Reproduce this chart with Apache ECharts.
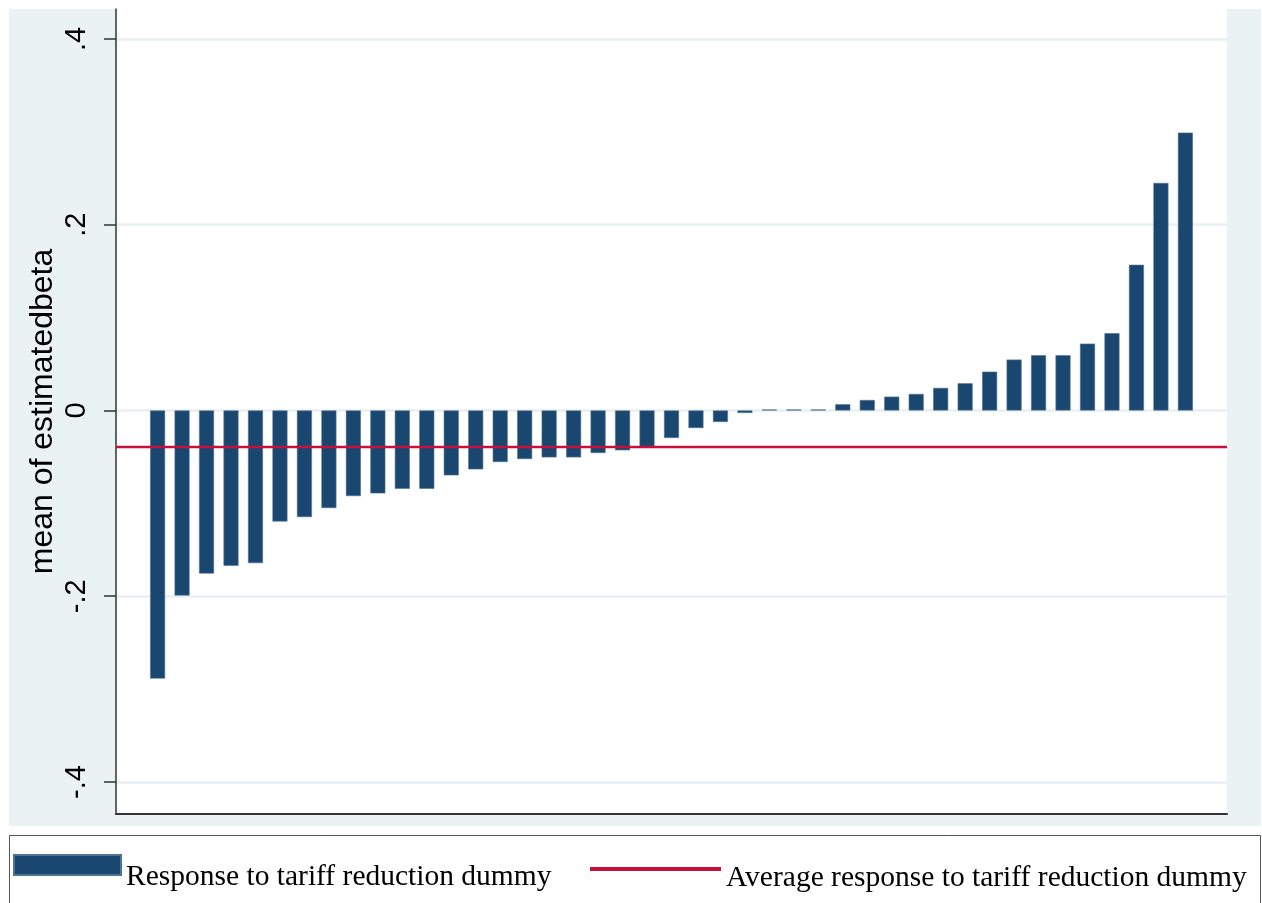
<!DOCTYPE html>
<html>
<head>
<meta charset="utf-8">
<script src="https://cdn.jsdelivr.net/npm/echarts@6/dist/echarts.min.js"></script>
<style>
  html, body { margin: 0; padding: 0; background: #ffffff; }
  #chart { width: 1262px; height: 903px; }
</style>
</head>
<body>
<div id="chart"></div>
<script>
// Estimated response (beta) for each unit, sorted from lowest to highest
const estimatedBeta = [
  -0.2887, -0.1993, -0.1756, -0.1673, -0.1644, -0.1195, -0.1148, -0.1051,
  -0.0922, -0.0893, -0.0843, -0.0843, -0.0699, -0.0634, -0.0555, -0.0523,
  -0.0505, -0.0505, -0.0458, -0.0429, -0.0397, -0.0296, -0.0189, -0.0124,
  -0.0027, 0.0010, 0.0010, 0.0010, 0.0067, 0.0113, 0.0149, 0.0178,
  0.0243, 0.0293, 0.0418, 0.0548, 0.0595, 0.0595, 0.0720, 0.0832,
  0.1569, 0.2450, 0.2992
];
// Average response shown as a horizontal reference line
const averageResponse = -0.0394;

const yTickValues = [-0.4, -0.2, 0, 0.2, 0.4];
const yTickLabels = ['-.4', '-.2', '0', '.2', '.4'];
const seriesNames = [
  'Response to tariff reduction dummy',
  'Average response to tariff reduction dummy'
];

// Bar positions along the horizontal value axis (1..n)
const barPositions = estimatedBeta.map((_, i) => i + 1);

const X_MIN = -0.7;
const X_MAX = estimatedBeta.length + 1.7;
const Y_MIN = -0.4345;
const Y_MAX = 0.4323;

const NAVY = '#1A476F';
const RED = '#C8103C';
const AXIS = '#333333';
const LEGEND_FONT = { fontFamily: 'Liberation Serif', fontSize: 29.5, color: '#000' };

const chart = echarts.init(document.getElementById('chart'), null, { renderer: 'canvas' });

chart.setOption({
  animation: false,
  backgroundColor: '#ffffff',
  graphic: [
    {
      type: 'rect', z: -10, silent: true,
      shape: { x: 9, y: 9, width: 1252, height: 817 },
      style: { fill: '#EAF2F3' }
    },
    {
      type: 'rect', z: -5, silent: true,
      shape: { x: 9.5, y: 835.5, width: 1251, height: 90 },
      style: { fill: '#ffffff', stroke: '#555555', lineWidth: 1 }
    }
  ],
  grid: {
    left: 116, right: 35, top: 9, bottom: 89,
    show: true, backgroundColor: '#ffffff', borderWidth: 0
  },
  xAxis: {
    type: 'value',
    min: X_MIN, max: X_MAX,
    axisLine: { show: true, onZero: false, lineStyle: { color: AXIS, width: 2 } },
    axisTick: { show: false },
    axisLabel: { show: false },
    splitLine: { show: false }
  },
  yAxis: {
    type: 'value',
    min: Y_MIN, max: Y_MAX,
    name: 'mean of estimatedbeta',
    nameLocation: 'middle',
    nameGap: 57,
    nameMoveOverlap: false,
    nameTextStyle: { fontFamily: 'Liberation Sans', fontSize: 32, color: '#000' },
    axisLine: { show: true, onZero: false, lineStyle: { color: AXIS, width: 1.5 } },
    axisTick: {
      show: true, length: 12, customValues: yTickValues,
      lineStyle: { color: AXIS, width: 1.5 }
    },
    axisLabel: {
      show: true, rotate: 90, margin: 25,
      customValues: yTickValues,
      fontFamily: 'Liberation Sans', fontSize: 29, color: '#000',
      formatter: v => {
        const k = yTickValues.findIndex(t => Math.abs(t - v) < 1e-9);
        return k >= 0 ? yTickLabels[k] : '';
      }
    },
    splitLine: { show: true, lineStyle: { color: '#E8F0F2', width: 2.5 } }
  },
  legend: [
    {
      data: [{ name: seriesNames[0], icon: 'rect' }],
      left: 13, top: 854, padding: 0,
      itemWidth: 107, itemHeight: 20,
      selectedMode: false,
      formatter: name => '{t|' + name + '}',
      textStyle: Object.assign({}, LEGEND_FONT, {
        rich: { t: Object.assign({}, LEGEND_FONT, { padding: [24, 0, 0, 0] }) }
      })
    },
    {
      data: [{ name: seriesNames[1], icon: 'rect' }],
      left: 590, top: 863, padding: 0,
      itemWidth: 131, itemHeight: 4,
      selectedMode: false,
      formatter: name => '{t|' + name + '}',
      textStyle: Object.assign({}, LEGEND_FONT, {
        rich: { t: Object.assign({}, LEGEND_FONT, { padding: [18, 0, 0, 0] }) }
      })
    }
  ],
  series: [
    {
      name: seriesNames[0],
      type: 'bar',
      barWidth: 15,
      data: barPositions.map((x, i) => [x, estimatedBeta[i]]),
      itemStyle: { color: NAVY, borderColor: '#4F7393', borderWidth: 0.6 },
      z: 2
    },
    {
      name: seriesNames[1],
      type: 'line',
      symbol: 'none',
      silent: true,
      data: [[X_MIN, averageResponse], [X_MAX, averageResponse]],
      itemStyle: { color: RED },
      lineStyle: { color: RED, width: 2.5 },
      z: 3
    }
  ]
});
</script>
</body>
</html>
